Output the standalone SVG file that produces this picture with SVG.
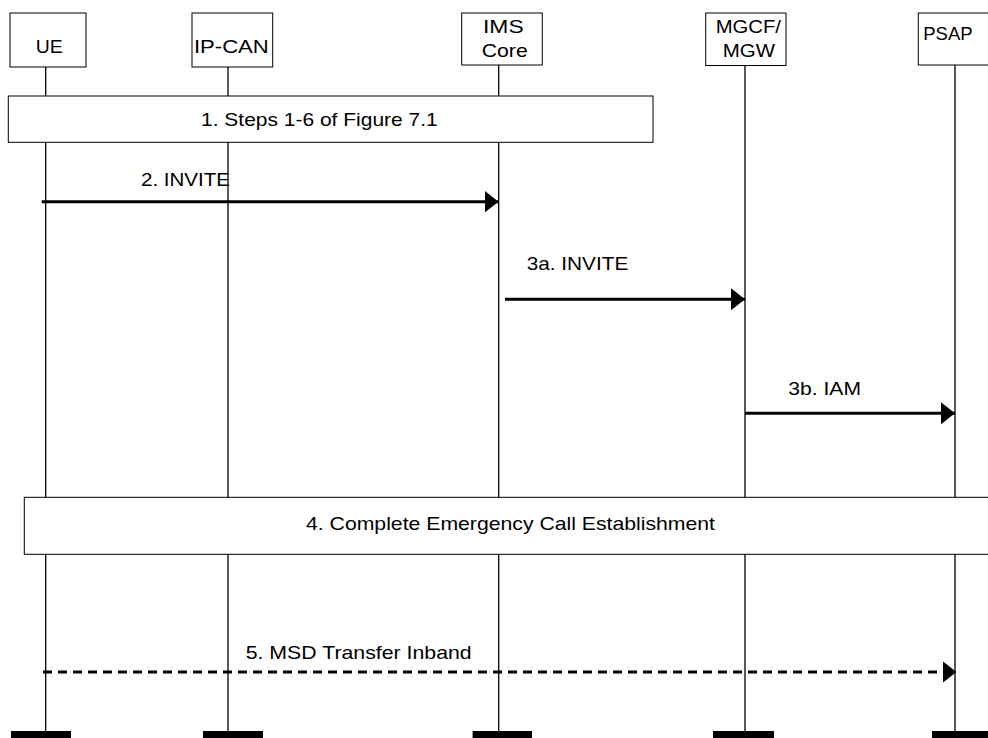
<svg xmlns="http://www.w3.org/2000/svg" width="988" height="738" viewBox="0 0 988 738">
<style>
.box{fill:#fff;stroke:#000;stroke-width:1}
.life{stroke:#000;stroke-width:1.3;fill:none}
.bar{fill:#000}
.msg{stroke:#000;stroke-width:3;fill:none;marker-end:url(#ah)}
.dash{stroke-dasharray:9 6}
text{font-family:"Liberation Sans",Arial,sans-serif;font-size:19px;fill:#000}
</style>
<defs>
<marker id="ah" markerUnits="userSpaceOnUse" markerWidth="14" markerHeight="22" refX="14" refY="11" orient="auto">
<path d="M0,0 L14,11 L0,22 z" fill="#000"/>
</marker>
</defs>
<rect width="988" height="738" fill="#fff"/>
<g id="lifelines">
<line class="life" x1="45.7" y1="67" x2="45.7" y2="731"/>
<line class="life" x1="228" y1="67" x2="228" y2="731"/>
<line class="life" x1="498.7" y1="65" x2="498.7" y2="731"/>
<line class="life" x1="745" y1="65.5" x2="745" y2="731"/>
<line class="life" x1="955" y1="65" x2="955" y2="731"/>
</g>
<g id="UE">
<rect class="box" x="10" y="13" width="76" height="54"/>
<text x="35.7" y="52.7" textLength="27" lengthAdjust="spacingAndGlyphs">UE</text>
<rect class="bar" x="11" y="731" width="60" height="9"/>
</g>
<g id="IP-CAN">
<rect class="box" x="192" y="13" width="80.7" height="54"/>
<text x="194" y="52.7" textLength="74.7" lengthAdjust="spacingAndGlyphs">IP-CAN</text>
<rect class="bar" x="203" y="731" width="60" height="9"/>
</g>
<g id="IMS">
<rect class="box" x="461.7" y="13" width="80.6" height="52"/>
<text x="483" y="33" textLength="40.7" lengthAdjust="spacingAndGlyphs">IMS</text>
<text x="481.7" y="57" textLength="46" lengthAdjust="spacingAndGlyphs">Core</text>
<rect class="bar" x="472.6" y="731" width="59.4" height="9"/>
</g>
<g id="MGCF">
<rect class="box" x="705.7" y="13" width="80.3" height="52.5"/>
<text x="715.7" y="33" textLength="65.3" lengthAdjust="spacingAndGlyphs">MGCF/</text>
<text x="722.7" y="57" textLength="52.3" lengthAdjust="spacingAndGlyphs">MGW</text>
<rect class="bar" x="713" y="731" width="61" height="9"/>
</g>
<g id="PSAP">
<rect class="box" x="918.3" y="13" width="75" height="52"/>
<text x="923.3" y="40" textLength="49.3" lengthAdjust="spacingAndGlyphs">PSAP</text>
<rect class="bar" x="932" y="731" width="60" height="9"/>
</g>
<g id="step1">
<rect class="box" x="8.3" y="96" width="644.7" height="46.3"/>
<text x="201" y="126" textLength="236.7" lengthAdjust="spacingAndGlyphs">1. Steps 1-6 of Figure 7.1</text>
</g>
<g id="step4">
<rect class="box" x="24.3" y="497.3" width="975" height="57"/>
<text x="306" y="530" textLength="409" lengthAdjust="spacingAndGlyphs">4. Complete Emergency Call Establishment</text>
</g>
<g id="connectors">
<line class="msg" x1="41.7" y1="201.7" x2="498.5" y2="201.7"/>
<text x="141" y="186" textLength="89" lengthAdjust="spacingAndGlyphs">2. INVITE</text>
<line class="msg" x1="505" y1="299.3" x2="745" y2="299.3"/>
<text x="526.7" y="270" textLength="101.6" lengthAdjust="spacingAndGlyphs">3a. INVITE</text>
<line class="msg" x1="745" y1="413.3" x2="955" y2="413.3"/>
<text x="788.3" y="394.7" textLength="72.7" lengthAdjust="spacingAndGlyphs">3b. IAM</text>
<line class="msg dash" x1="43" y1="672" x2="956.5" y2="672"/>
<text x="245.7" y="659" textLength="226" lengthAdjust="spacingAndGlyphs">5. MSD Transfer Inband</text>
</g>
</svg>
